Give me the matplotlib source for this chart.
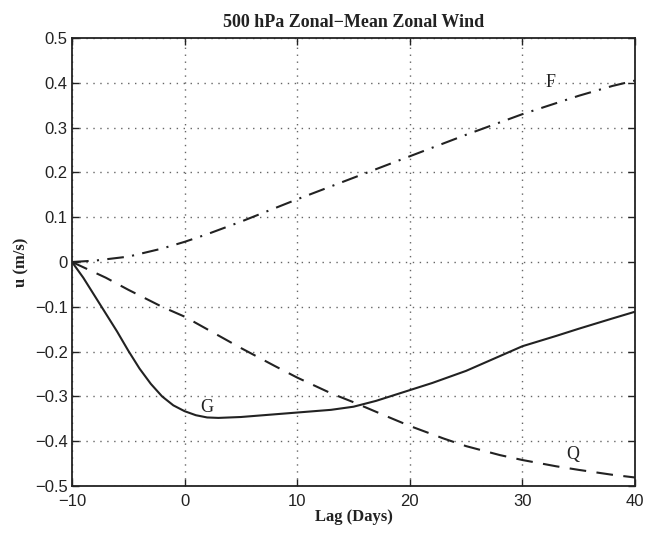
import matplotlib
matplotlib.use("Agg")
import matplotlib.pyplot as plt

# Data
lag_g = [-10, -9, -8, -7, -6, -5, -4, -3, -2, -1, 0, 1, 2, 3, 5, 7, 10, 13, 15, 17, 20, 22, 25, 28, 30, 33, 35, 38, 40]
u_g = [0, -0.035, -0.075, -0.115, -0.155, -0.198, -0.238, -0.272, -0.300, -0.320, -0.333, -0.342, -0.347, -0.348,
       -0.346, -0.342, -0.336, -0.330, -0.323, -0.310, -0.286, -0.270, -0.243, -0.210, -0.188, -0.165, -0.149, -0.126, -0.111]

lag_q = [-10, -7, -5, -2, 0, 2, 5, 8, 10, 13, 15, 18, 20, 23, 25, 28, 30, 33, 35, 38, 40]
u_q = [0, -0.035, -0.062, -0.100, -0.122, -0.150, -0.192, -0.232, -0.258, -0.293, -0.313, -0.345, -0.366, -0.394,
       -0.411, -0.431, -0.442, -0.456, -0.464, -0.475, -0.481]

lag_f = [-10, -8, -5, -2, 0, 2, 5, 10, 15, 20, 25, 30, 35, 38, 40]
u_f = [0, 0.003, 0.012, 0.030, 0.045, 0.062, 0.090, 0.140, 0.188, 0.236, 0.284, 0.330, 0.371, 0.393, 0.405]

labels = ["G", "Q", "F"]
label_pos = [(2.0, -0.325), (34.5, -0.43), (32.5, 0.40)]

x_ticks = [-10, 0, 10, 20, 30, 40]
y_ticks = [-0.5, -0.4, -0.3, -0.2, -0.1, 0, 0.1, 0.2, 0.3, 0.4, 0.5]
y_ticklabels = ["-0.5", "-0.4", "-0.3", "-0.2", "-0.1", "0", "0.1", "0.2", "0.3", "0.4", "0.5"]
y_ticklabels = [s.replace("-", "\u2212") for s in y_ticklabels]
x_ticklabels = [str(v).replace("-", "\u2212") for v in x_ticks]

fig = plt.figure(figsize=(6.47, 5.34), dpi=100)
ax = fig.add_axes([72/647, 1-486/534, (635-72)/647, (486-38)/534])

ax.plot(lag_g, u_g, color="#222222", lw=1.5, linestyle="-")
ax.plot(lag_q, u_q, color="#222222", lw=1.5, linestyle=(0, (8, 5)))
ax.plot(lag_f, u_f, color="#222222", lw=1.5, linestyle=(0, (8, 4, 1, 4)))

serif = ["Liberation Serif", "DejaVu Serif"]
for t, (x, y) in zip(labels, label_pos):
    ax.text(x, y, t, fontsize=13, family=serif, ha="center", va="center", color="#222222")

ax.set_xlim(-10, 40)
ax.set_ylim(-0.5, 0.5)
ax.set_xticks(x_ticks)
ax.set_xticklabels(x_ticklabels)
ax.set_yticks(y_ticks)
ax.set_yticklabels(y_ticklabels)
ax.grid(True, linestyle=(0, (1, 4)), color="#666666", lw=1.0)
ax.tick_params(direction="in", top=True, right=True, length=5, width=1.0,
               labelsize=12, colors="#222222")
ax.tick_params(axis="x", pad=6)
ax.tick_params(axis="y", pad=3)
for lab in ax.get_xticklabels() + ax.get_yticklabels():
    lab.set_family(["Liberation Sans", "DejaVu Sans"])
for s in ax.spines.values():
    s.set_linewidth(1.3)
    s.set_color("#222222")

ax.set_title("500 hPa Zonal\u2212Mean Zonal Wind", family=serif, fontsize=13, fontweight="bold", pad=8, color="#222222")
ax.set_xlabel("Lag (Days)", family=serif, fontsize=12, fontweight="bold", labelpad=0, color="#222222")
ax.set_ylabel("u (m/s)", family=serif, fontsize=12, fontweight="bold", labelpad=4, color="#222222")

fig.savefig("out.png", dpi=100, facecolor="white")
